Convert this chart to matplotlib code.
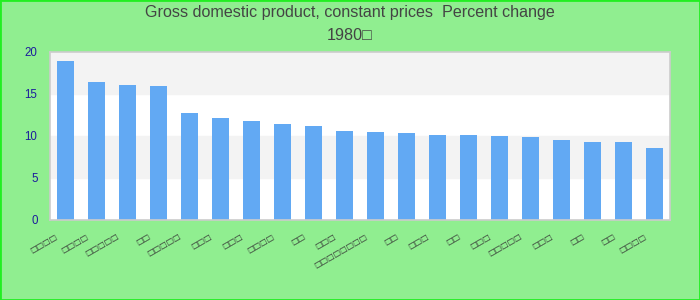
import matplotlib.pyplot as plt
from matplotlib.patches import Rectangle
from matplotlib.transforms import ScaledTranslation

# labels rendered as missing-glyph boxes in the reference, kept as □ with the same lengths
label_lengths = [4, 4, 5, 2, 5, 3, 3, 4, 2, 3, 8, 2, 3, 2, 3, 5, 3, 2, 2, 4]
categories = ['\u25a1' * n for n in label_lengths]
values = [18.9, 16.4, 16.0, 15.9, 12.7, 12.1, 11.8, 11.4, 11.2, 10.6,
          10.5, 10.3, 10.1, 10.1, 10.0, 9.9, 9.5, 9.3, 9.3, 8.6]
yticks = [0, 5, 10, 15, 20]
title1 = 'Gross domestic product, constant prices  Percent change'
title2 = '1980\u25a1'

plt.rcParams['font.family'] = ['Liberation Sans', 'DejaVu Sans']

fig = plt.figure(figsize=(7, 3), dpi=100, facecolor='#90ee90')
ax = fig.add_axes([50/700, 80/300, 620/700, 168.3/300])
ax.set_facecolor('white')

ax.axhspan(15, 20, color='#f3f3f3', zorder=0)
ax.axhspan(5, 10, color='#f3f3f3', zorder=0)

x = list(range(len(values)))
ax.bar(x, values, width=0.55, color='#62a9f3', zorder=2)

ax.set_xlim(-0.5, len(values) - 0.5)
ax.set_ylim(0, 20)
ax.set_yticks(yticks)
ax.tick_params(axis='y', length=0, pad=9, labelsize=8.3, labelcolor='#1c1c9c')
ax.set_xticks(x)
ax.set_xticklabels(categories, rotation=30, ha='right', fontsize=5.8,
                   color='#333333', family='DejaVu Sans')
ax.tick_params(axis='x', length=0, pad=8.5)
shift = ScaledTranslation(-5/72, 0, fig.dpi_scale_trans)
for lab in ax.get_xticklabels():
    lab.set_transform(lab.get_transform() + shift)

for s in ax.spines.values():
    s.set_color('#cccccc')
    s.set_linewidth(1.2)

fig.text(0.5, 1 - 13/300, title1, ha='center', va='center', fontsize=11.6, color='#444444')
fig.text(0.5, 1 - 35/300, title2, ha='center', va='center', fontsize=11.6, color='#444444')

fig.patches.append(Rectangle((0, 0), 1, 1, transform=fig.transFigure, fill=False,
                             edgecolor='#22ee22', linewidth=2))

fig.savefig('out.png', dpi=100, facecolor=fig.get_facecolor())
